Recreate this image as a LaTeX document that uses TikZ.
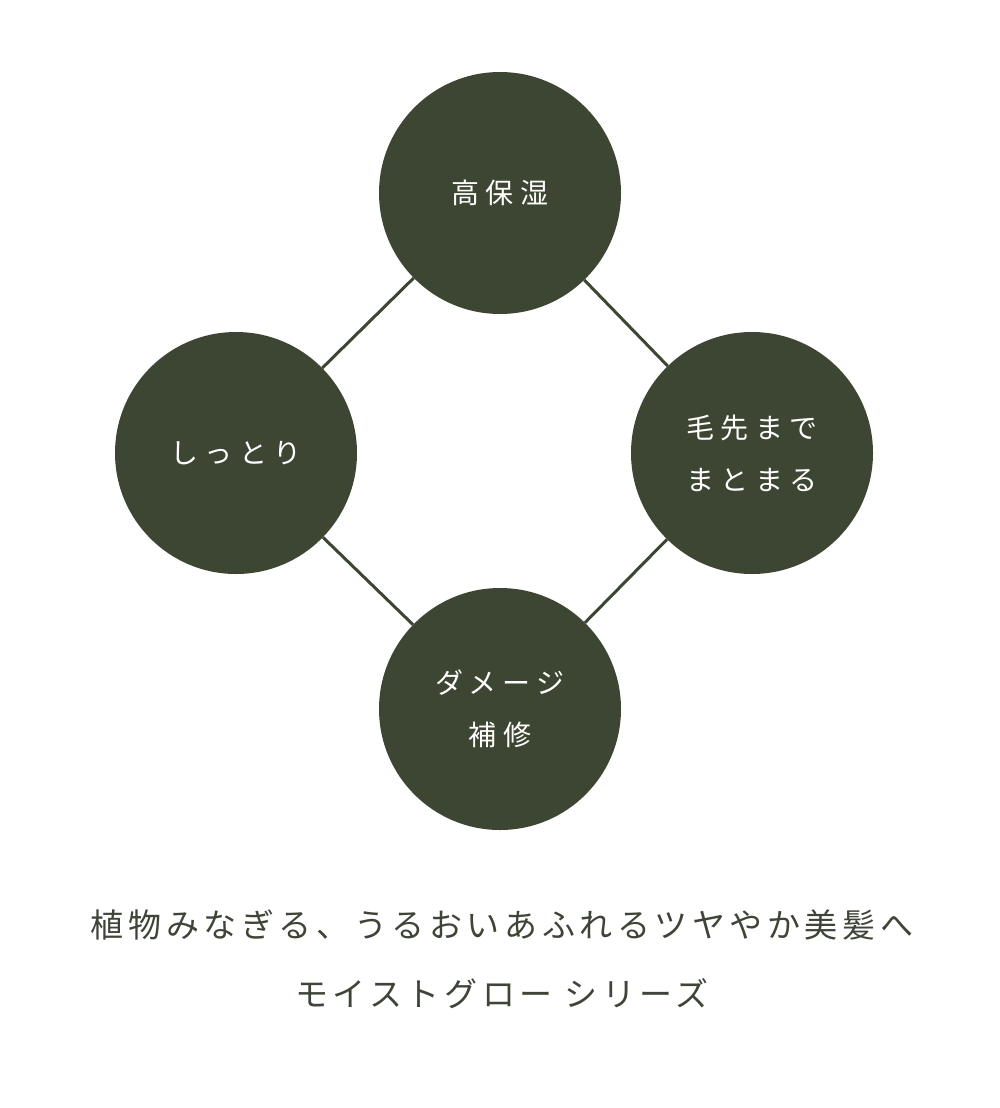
\documentclass[tikz,border=0pt]{standalone}
\usepackage{fontspec}
\newfontfamily\cjk[LetterSpace=22]{Noto Sans CJK JP}
\newfontfamily\cjkb[LetterSpace=14]{Noto Sans CJK JP}
\definecolor{olive}{HTML}{3D4632}
\definecolor{txt}{HTML}{3F4438}
\begin{document}
\begin{tikzpicture}[x=1pt,y=-1pt,
  ball/.style={circle,fill=olive,minimum size=242pt,inner sep=0pt,text=white,align=center,font=\cjk\fontsize{28}{52}\selectfont},
  link/.style={draw=olive,line width=3pt},
  caption/.style={text=txt,font=\cjkb\fontsize{33}{40}\selectfont}]
\useasboundingbox (0,0) rectangle (1000,1108);
\node[ball] (t) at (500,193) {高保湿};
\node[ball] (l) at (236,453) {しっとり};
\node[ball] (r) at (752,453) {毛先まで\\まとまる};
\node[ball] (b) at (500,709) {ダメージ\\補修};
\draw[link] (t) -- (l);
\draw[link] (t) -- (r);
\draw[link] (b) -- (l);
\draw[link] (b) -- (r);
\node[caption] (c1) at (502,925) {植物みなぎる、うるおいあふれるツヤやか美髪へ};
\node[caption] (c2) at (502,994) {モイストグロー シリーズ};
\end{tikzpicture}
\end{document}
